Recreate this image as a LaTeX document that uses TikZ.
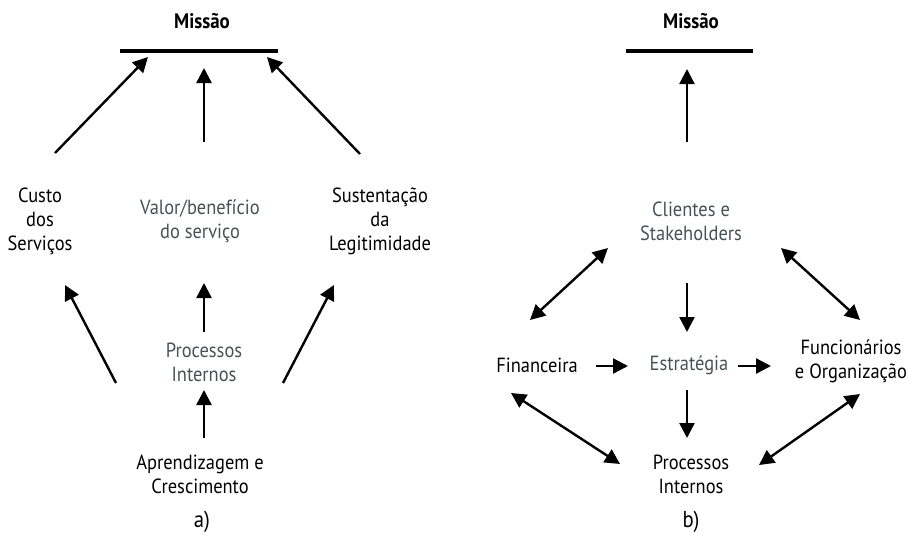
\documentclass[tikz,border=0pt]{standalone}
\usepackage{fontspec}
\setmainfont{PT Sans}[FakeStretch=0.9]
\usetikzlibrary{arrows.meta}
\definecolor{softgray}{RGB}{72,82,86}
\tikzset{
  lbl/.style={align=center, inner sep=0pt, font=\fontsize{20.5}{24}\selectfont, text=black},
  glbl/.style={lbl, text=softgray},
  ttl/.style={inner sep=0pt, font=\fontsize{21}{24}\selectfont\bfseries},
  panelcaption/.style={inner sep=0pt, font=\fontsize{23}{26}\selectfont},
  bar/.style={line width=4pt},
  arr/.style={line width=2.4pt, -{Triangle[length=15pt,width=15pt]}},
  darr/.style={line width=2.4pt, {Triangle[length=15pt,width=15pt]}-{Triangle[length=15pt,width=15pt]}}
}
\begin{document}
\begin{tikzpicture}[x=1pt,y=-1pt]
\useasboundingbox (0,0) rectangle (908,539);

% ---------- panel a ----------
\node[ttl] (mA) at (202,21) {Missão};
\coordinate (barAl) at (120,51);
\coordinate (barAr) at (278,51);
\draw[bar] (barAl) -- (barAr);

\node[lbl]  (custo) at (40,221) {Custo\\dos\\Serviços};
\node[glbl] (valor) at (200,221) {Valor/benefício\\do serviço};
\node[lbl]  (sust)  at (380,221) {Sustentação\\da\\Legitimidade};
\node[glbl] (procA) at (204,362) {Processos\\Internos};
\node[lbl]  (aprend) at (200,474) {Aprendizagem e\\Crescimento};
\node[panelcaption] (capA) at (202,522) {a)};

\coordinate (c1) at (55,153);  \coordinate (m1) at (148,57);
\coordinate (c2) at (204,142); \coordinate (m2) at (204,68);
\coordinate (c3) at (360,154); \coordinate (m3) at (267,57);
\draw[arr] (c1) -- (m1);
\draw[arr] (c2) -- (m2);
\draw[arr] (c3) -- (m3);

\coordinate (p1) at (116,383); \coordinate (q1) at (65,285);
\coordinate (p2) at (204,332); \coordinate (q2) at (204,283);
\coordinate (p3) at (283,383); \coordinate (q3) at (334,285);
\draw[arr] (p1) -- (q1);
\draw[arr] (p2) -- (q2);
\draw[arr] (p3) -- (q3);

\coordinate (r1) at (204,438); \coordinate (s1) at (204,390);
\draw[arr] (r1) -- (s1);

% ---------- panel b ----------
\node[ttl] (mB) at (691,21) {Missão};
\coordinate (barBl) at (626,51);
\coordinate (barBr) at (753,51);
\draw[bar] (barBl) -- (barBr);

\node[glbl] (cli)  at (691,221) {Clientes e\\Stakeholders};
\node[lbl]  (fin)  at (537,365) {Financeira};
\node[glbl] (estr) at (689,365) {Estratégia};
\node[lbl]  (func) at (851,361) {Funcionários\\e Organização};
\node[lbl]  (procB) at (691,474) {Processos\\Internos};
\node[panelcaption] (capB) at (691,522) {b)};

\coordinate (u1) at (687,142); \coordinate (v1) at (687,69);
\draw[arr] (u1) -- (v1);

\coordinate (cf1) at (608,248); \coordinate (cf2) at (530,320);
\draw[darr] (cf2) -- (cf1);
\coordinate (cg1) at (781,248); \coordinate (cg2) at (860,320);
\draw[darr] (cg1) -- (cg2);

\coordinate (ce1) at (687,283); \coordinate (ce2) at (687,332);
\draw[arr] (ce1) -- (ce2);

\coordinate (fe1) at (596,366); \coordinate (fe2) at (628,366);
\draw[arr] (fe1) -- (fe2);
\coordinate (eg1) at (738,366); \coordinate (eg2) at (771,366);
\draw[arr] (eg1) -- (eg2);

\coordinate (ep1) at (687,390); \coordinate (ep2) at (687,438);
\draw[arr] (ep1) -- (ep2);

\coordinate (fp1) at (511,393); \coordinate (fp2) at (620,464);
\draw[darr] (fp1) -- (fp2);
\coordinate (gp1) at (860,394); \coordinate (gp2) at (759,465);
\draw[darr] (gp1) -- (gp2);
\end{tikzpicture}
\end{document}
